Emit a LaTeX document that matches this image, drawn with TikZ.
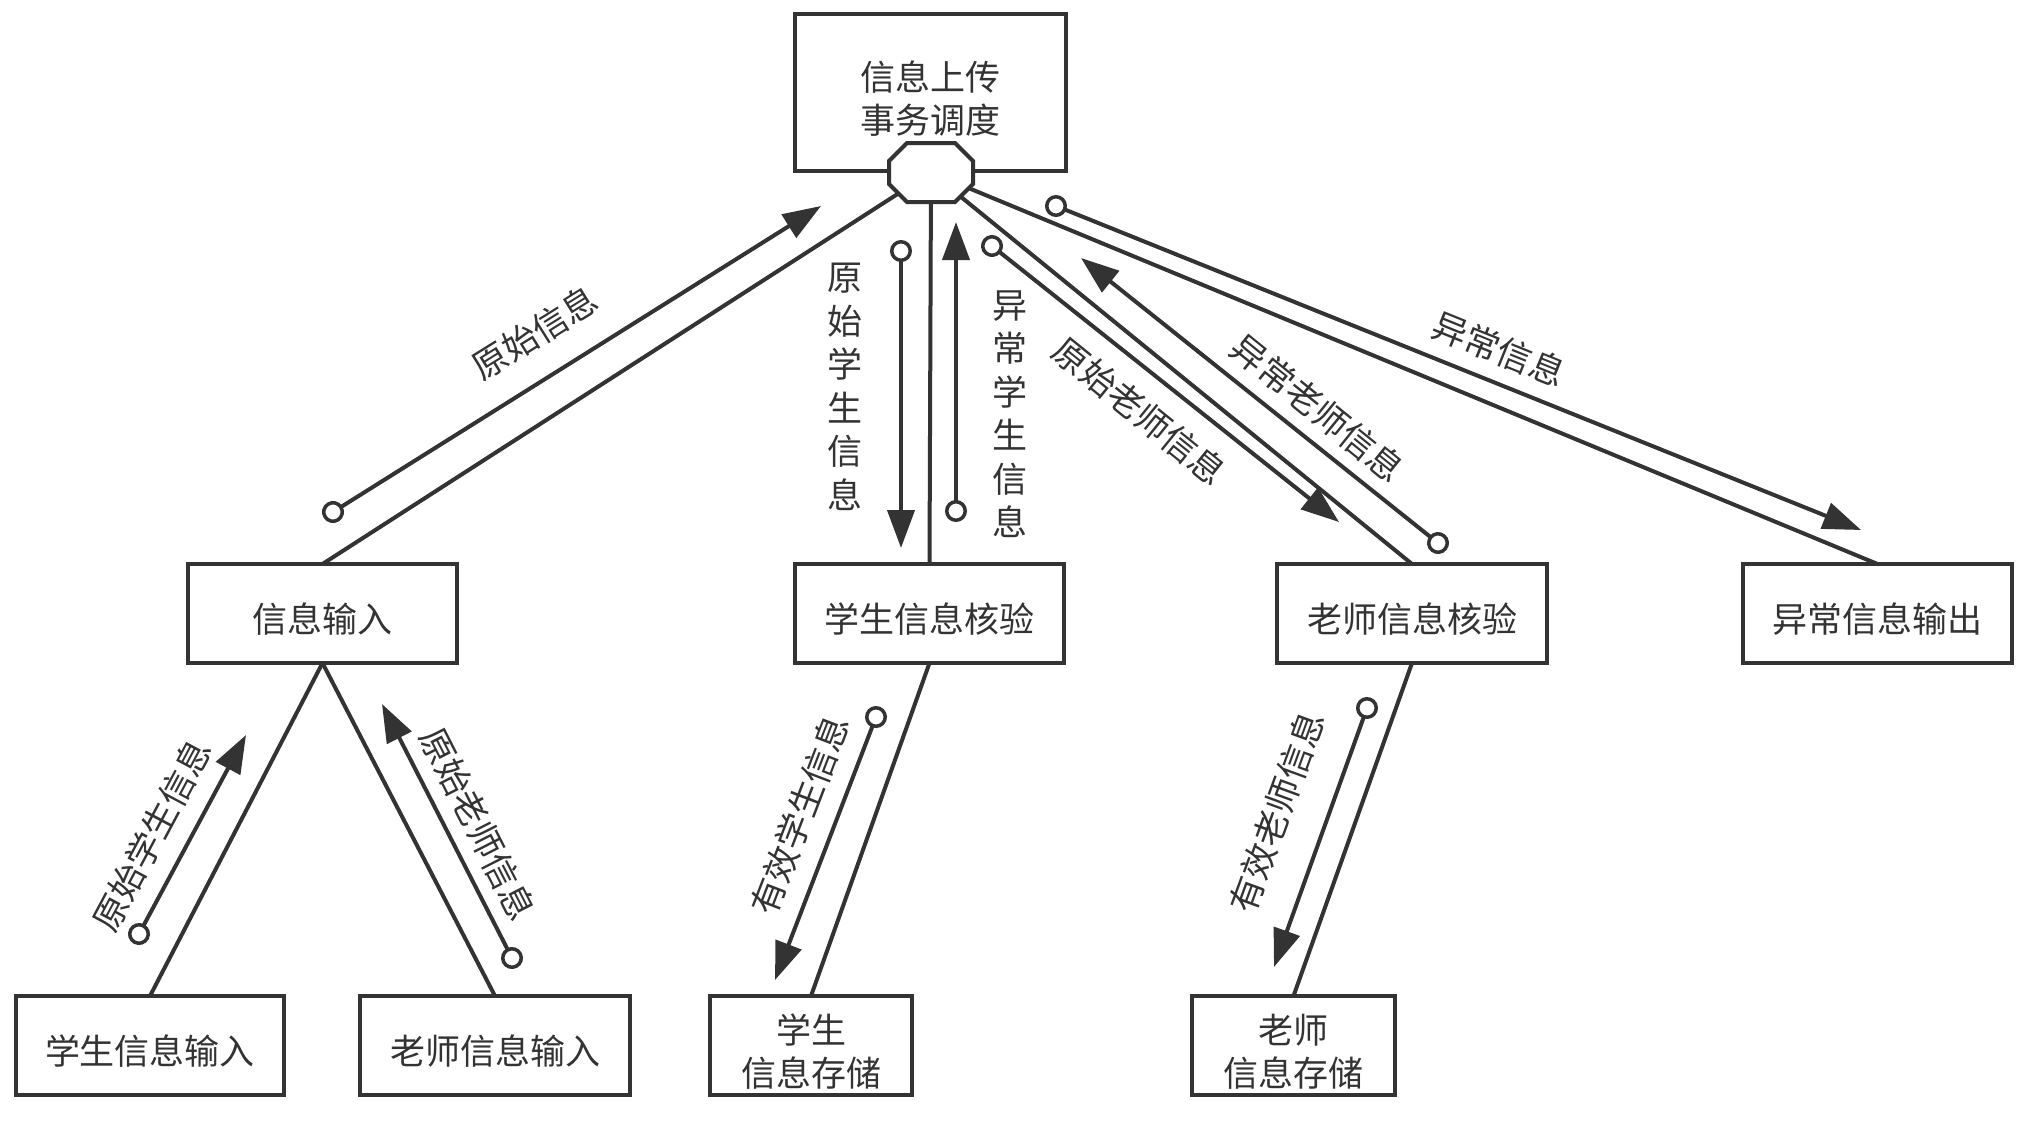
\documentclass[tikz,border=0pt]{standalone}
\usepackage{fontspec}
\setmainfont{Noto Sans CJK SC}
\usetikzlibrary{arrows.meta,calc}
\definecolor{ink}{HTML}{333333}
\newcommand{\boxtxt}[1]{\raisebox{-10.5pt}[\height][\depth]{\begin{tabular}{@{}c@{}}#1\end{tabular}}}
\begin{document}
\begin{tikzpicture}[x=1pt,y=-1pt,
  box/.style={draw=ink,line width=4pt,fill=white,inner sep=0pt,outer sep=0pt,
    minimum height=99pt,text=ink,font=\fontsize{35}{43}\selectfont},
  conn/.style={draw=ink,line width=4pt},
  flow/.style={draw=ink,line width=4pt,
    {Circle[fill=white,length=22pt,width=22pt,line width=3.5pt]}-{Triangle[length=38pt,width=27pt]},
    shorten <=-11pt},
  lbl/.style={text=ink,inner sep=0pt,font=\fontsize{35}{43.5}\selectfont,align=center}]
\useasboundingbox[fill=white] (0,0) rectangle (2022,1120);

% nodes
\node[box,minimum width=271pt,minimum height=157pt] (top) at (930.5,92.5) {\boxtxt{信息上传\\事务调度}};
\node[inner sep=0pt,outer sep=0pt,minimum width=84pt,minimum height=59pt] (oct) at (931,172.5) {};
\node[box,minimum width=269pt] (in) at (322.5,613.5) {\boxtxt{信息输入}};
\node[box,minimum width=269pt] (sv) at (929.5,613.5) {\boxtxt{学生信息核验}};
\node[box,minimum width=270pt] (tv) at (1412,613.5) {\boxtxt{老师信息核验}};
\node[box,minimum width=269pt] (ex) at (1877.5,613.5) {\boxtxt{异常信息输出}};
\node[box,minimum width=268pt] (si) at (150,1045.5) {\boxtxt{学生信息输入}};
\node[box,minimum width=270pt] (ti) at (495,1045.5) {\boxtxt{老师信息输入}};
\node[box,minimum width=202pt] (ss) at (811,1045.5) {\boxtxt{学生\\信息存储}};
\node[box,minimum width=203pt] (ts) at (1293.5,1045.5) {\boxtxt{老师\\信息存储}};

% connectors
\draw[conn] (oct.center) -- (in.north);
\draw[conn] (oct.center) -- (sv.north);
\draw[conn] (oct.center) -- (tv.north);
\draw[conn] (oct.center) -- (ex.north);
\draw[conn] (in.south) -- (si.north);
\draw[conn] (in.south) -- (ti.north);
\draw[conn] (sv.south) -- (ss.north);
\draw[conn] (tv.south) -- (ts.north);

% octagon joint
\draw[draw=ink,line width=4pt,fill=white]
  ($(oct.center)+(-24,-29.5)$) -- ($(oct.center)+(24,-29.5)$) --
  ($(oct.center)+(42,-11.5)$) -- ($(oct.center)+(42,11.5)$) --
  ($(oct.center)+(24,29.5)$) -- ($(oct.center)+(-24,29.5)$) --
  ($(oct.center)+(-42,11.5)$) -- ($(oct.center)+(-42,-11.5)$) -- cycle;

% flow arrows
\coordinate (a1s) at (333,512);  \coordinate (a1e) at (821,206);
\coordinate (a2s) at (901,251);  \coordinate (a2e) at (901,548);
\coordinate (a3s) at (956,511);  \coordinate (a3e) at (956,222);
\coordinate (a4s) at (992,246);  \coordinate (a4e) at (1339,522);
\coordinate (a5s) at (1438,543); \coordinate (a5e) at (1081,258);
\coordinate (a6s) at (1056,206); \coordinate (a6e) at (1861,530);
\coordinate (a7s) at (139,934);  \coordinate (a7e) at (246,735);
\coordinate (a8s) at (512,958);  \coordinate (a8e) at (382,704);
\coordinate (a9s) at (876,717);  \coordinate (a9e) at (775,980);
\coordinate (a10s) at (1367,708); \coordinate (a10e) at (1274,967);
\foreach \i in {1,...,10} {\draw[flow] (a\i s) -- (a\i e);}

% labels
\node[lbl,rotate=32] (l1) at (535,333) {原始信息};
\node[lbl] (l2) at (845,387) {原\\始\\学\\生\\信\\息};
\node[lbl] (l3) at (1010,414) {异\\常\\学\\生\\信\\息};
\node[lbl,rotate=-39] (l4) at (1140,411) {原始老师信息};
\node[lbl,rotate=-39] (l5) at (1318,408) {异常老师信息};
\node[lbl,rotate=-22] (l6) at (1499,349) {异常信息};
\node[lbl,rotate=62] (l7) at (152,835) {原始学生信息};
\node[lbl,rotate=-63] (l8) at (478,824) {原始老师信息};
\node[lbl,rotate=69] (l9) at (800,815) {有效学生信息};
\node[lbl,rotate=70] (l10) at (1277,812) {有效老师信息};
\end{tikzpicture}
\end{document}
